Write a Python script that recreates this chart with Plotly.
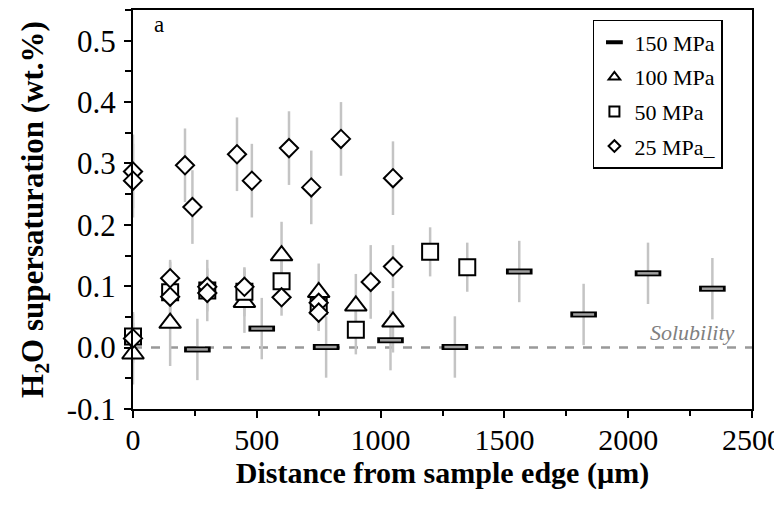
import plotly.graph_objects as go

# distance from sample edge (um) and H2O supersaturation (wt.%) per run pressure
p150_x = [260, 520, 780, 1040, 1300, 1560, 1820, 2080, 2340]
p150_y = [-0.003, 0.031, 0.001, 0.012, 0.001, 0.124, 0.054, 0.121, 0.096]
p150_err = [0.05, 0.05, 0.05, 0.049, 0.05, 0.05, 0.05, 0.05, 0.05]

p100_x = [0, 150, 450, 600, 750, 900, 1050]
p100_y = [-0.010, 0.040, 0.074, 0.150, 0.090, 0.068, 0.042]
p100_err = [0.05, 0.07, 0.05, 0.055, 0.047, 0.052, 0.05]

p50_x = [0, 150, 300, 450, 600, 750, 900, 1200, 1350]
p50_y = [0.018, 0.090, 0.093, 0.091, 0.108, 0.068, 0.029, 0.156, 0.131]
p50_err = [0.04, 0.05, 0.05, 0.04, 0.04, 0.04, 0.04, 0.04, 0.04]

p25_x = [0, 0, 0, 150, 150, 210, 240, 300, 300, 420, 450, 480,
         600, 630, 720, 750, 750, 840, 960, 1050, 1050]
p25_y = [0.287, 0.272, 0.015, 0.113, 0.083, 0.297, 0.229, 0.099, 0.089,
         0.315, 0.099, 0.272, 0.082, 0.325, 0.261, 0.073, 0.057, 0.340,
         0.107, 0.276, 0.132]
p25_err = [0.06, 0.06, 0.04, 0.03, 0.03, 0.06, 0.06, 0.03, 0.03, 0.06,
           0.03, 0.06, 0.03, 0.06, 0.06, 0.03, 0.03, 0.06, 0.06, 0.06, 0.035]

solubility = 0.0

x_ticks = [0, 500, 1000, 1500, 2000, 2500]
y_ticks = [-0.1, 0.0, 0.1, 0.2, 0.3, 0.4, 0.5]
y_ticktext = ["-0.1", "0.0", "0.1", "0.2", "0.3", "0.4", "0.5"]

FONT = "Liberation Serif"
ERR_COLOR = "#c4c4c4"

fig = go.Figure()

# error bars first so every marker sits on top of them
for xs, ys, errs in [(p150_x, p150_y, p150_err), (p100_x, p100_y, p100_err),
                     (p50_x, p50_y, p50_err), (p25_x, p25_y, p25_err)]:
    fig.add_trace(go.Scatter(
        x=xs, y=ys, mode="markers",
        marker=dict(size=1, opacity=0),
        error_y=dict(type="data", array=errs, color=ERR_COLOR,
                     thickness=2.5, width=0),
        showlegend=False, hoverinfo="skip", cliponaxis=False,
    ))

# 150 MPa: small grey bar with black outline (two stacked horizontal lines)
fig.add_trace(go.Scatter(
    x=p150_x, y=p150_y, mode="markers", showlegend=False, cliponaxis=False,
    marker=dict(symbol="line-ew", size=19, line=dict(color="black", width=6)),
))
fig.add_trace(go.Scatter(
    x=p150_x, y=p150_y, mode="markers", showlegend=False, cliponaxis=False,
    marker=dict(symbol="line-ew", size=15, line=dict(color="#a0a0a0", width=2.5)),
))

open_marker = dict(color="white", line=dict(color="black", width=2))
fig.add_trace(go.Scatter(
    x=p100_x, y=p100_y, mode="markers", showlegend=False, cliponaxis=False,
    marker=dict(symbol="triangle-up", size=19, **open_marker),
))
fig.add_trace(go.Scatter(
    x=p50_x, y=p50_y, mode="markers", showlegend=False, cliponaxis=False,
    marker=dict(symbol="square", size=16, **open_marker),
))
fig.add_trace(go.Scatter(
    x=p25_x, y=p25_y, mode="markers", showlegend=False, cliponaxis=False,
    marker=dict(symbol="diamond", size=14, **open_marker),
))

# legend-only entries with smaller symbols, like the original key
legend_items = [
    ("150 MPa", "line-ew", 12, dict(color="black", width=4)),
    ("100 MPa", "triangle-up", 10, dict(color="black", width=2)),
    ("50 MPa", "square", 10, dict(color="black", width=2)),
    ("25 MPa_", "diamond", 9, dict(color="black", width=2)),
]
for i, (name, sym, size, line) in enumerate(legend_items):
    fig.add_trace(go.Scatter(
        x=[None], y=[None], mode="markers", name=name, legendgroup=str(i),
        marker=dict(symbol=sym, size=size, color="white", line=line),
    ))

fig.add_hline(y=solubility, line=dict(color="#999999", width=2.5, dash="dash"),
              layer="below")

fig.add_annotation(x=0.976, y=solubility, xref="paper", yref="y",
                   text="<i>Solubility</i>", showarrow=False,
                   xanchor="right", yanchor="bottom", yshift=1,
                   font=dict(family=FONT, size=22, color="#808080"))
fig.add_annotation(x=0.03, y=1.0, xref="paper", yref="paper", text="a",
                   showarrow=False, xanchor="left", yanchor="top",
                   font=dict(family=FONT, size=23, color="black"))

axis_common = dict(
    showline=True, linecolor="black", linewidth=2, mirror=True,
    ticks="outside", ticklen=7, tickwidth=2, tickcolor="black",
    showgrid=False, zeroline=False,
)

fig.update_xaxes(
    range=[0, 2500], tickvals=x_ticks,
    ticklabelstandoff=-4,
    tickfont=dict(family=FONT, size=30, color="black"),
    minor=dict(ticks="outside", ticklen=5, tickwidth=2, tickcolor="black",
               dtick=250, showgrid=False),
    title=dict(text="<b>Distance from sample edge (µm)</b>", standoff=6,
               font=dict(family=FONT, size=30, color="black")),
    **axis_common,
)
fig.update_yaxes(
    range=[-0.1, 0.55], tickvals=y_ticks, ticktext=y_ticktext,
    ticklabelstandoff=2,
    tickfont=dict(family=FONT, size=31, color="black"),
    minor=dict(ticks="outside", ticklen=6, tickwidth=2, tickcolor="black",
               dtick=0.05, tick0=0, showgrid=False),
    title=dict(text="<b>H<sub>2</sub>O supersaturation (wt.%)</b>", standoff=14,
               font=dict(family=FONT, size=31, color="black")),
    **axis_common,
)

# the page body adds an 8px margin, so the figure is drawn 8px smaller
fig.update_layout(
    width=774, height=507,
    margin=dict(l=125, r=30, t=0, b=106),
    paper_bgcolor="white", plot_bgcolor="white",
    legend=dict(
        x=0.743, y=0.975, xanchor="left", yanchor="top",
        bordercolor="black", borderwidth=1.5, bgcolor="white",
        font=dict(family=FONT, size=22, color="black"),
        traceorder="grouped", tracegroupgap=3,
        itemwidth=30,
    ),
)

fig.write_html("out.html")
